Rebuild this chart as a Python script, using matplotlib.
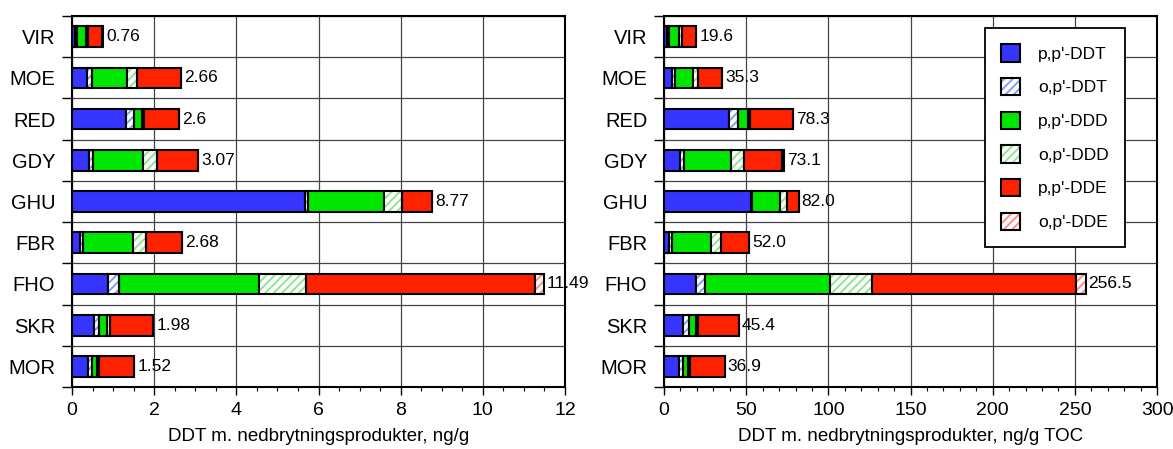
import matplotlib.pyplot as plt
import numpy as np
from matplotlib.patches import Patch
from matplotlib.ticker import MultipleLocator

plt.rcParams["font.family"] = ["Liberation Sans", "DejaVu Sans"]
plt.rcParams["hatch.linewidth"] = 1.4

stations = ["VIR", "MOE", "RED", "GDY", "GHU", "FBR", "FHO", "SKR", "MOR"]
components = ["p,p'-DDT", "o,p'-DDT", "p,p'-DDD", "o,p'-DDD", "p,p'-DDE", "o,p'-DDE"]

# ng/g torrvekt
pp_ddt_dw = [0.08, 0.37, 1.31, 0.41, 5.67, 0.19, 0.88, 0.54, 0.38]
op_ddt_dw = [0.04, 0.11, 0.20, 0.11, 0.08, 0.07, 0.26, 0.12, 0.11]
pp_ddd_dw = [0.23, 0.87, 0.19, 1.21, 1.84, 1.22, 3.41, 0.18, 0.11]
op_ddd_dw = [0.03, 0.22, 0.05, 0.35, 0.45, 0.32, 1.14, 0.08, 0.06]
pp_dde_dw = [0.36, 1.09, 0.85, 0.99, 0.73, 0.88, 5.57, 1.06, 0.86]
op_dde_dw = [0.02, 0.00, 0.00, 0.00, 0.00, 0.00, 0.23, 0.00, 0.00]

# ng/g TOC
pp_ddt_toc = [2.0, 4.6, 39.4, 9.7, 52.7, 3.2, 19.2, 11.6, 9.3]
op_ddt_toc = [1.2, 2.1, 5.6, 2.6, 0.8, 1.4, 5.6, 3.4, 2.4]
pp_ddd_toc = [6.1, 11.1, 6.1, 28.7, 16.8, 23.9, 76.4, 4.3, 2.7]
op_ddd_toc = [1.4, 2.6, 1.4, 7.5, 4.4, 6.0, 25.3, 1.6, 1.2]
pp_dde_toc = [8.9, 14.9, 25.8, 23.4, 7.3, 17.5, 124.3, 24.5, 21.3]
op_dde_toc = [0.0, 0.0, 0.0, 1.2, 0.0, 0.0, 5.7, 0.0, 0.0]

fills = ["#3535ff", "white", "#00e600", "white", "#ff2200", "white"]
hatch_col = [None, "#7da2f2", None, "#8ee68e", None, "#ff8c8c"]


def draw_panel(ax, series, xmax, major, minor, xlabel, fmt):
    y = np.arange(len(stations))
    left = np.zeros(len(stations))
    for vals, fc, hc in zip(series, fills, hatch_col):
        vals = np.array(vals)
        if hc is None:
            ax.barh(y, vals, left=left, height=0.5, color=fc,
                    edgecolor="black", linewidth=1.5, zorder=3)
        else:
            ax.barh(y, vals, left=left, height=0.5, color="white",
                    edgecolor=hc, hatch="////", linewidth=0, zorder=3)
            ax.barh(y, vals, left=left, height=0.5, fill=False,
                    edgecolor="black", linewidth=1.5, zorder=4)
        left += vals
    for yi, tot in zip(y, left):
        ax.text(tot + xmax * 0.006, yi, fmt(tot), va="center", ha="left",
                fontsize=12.5, zorder=5)

    ax.set_xlim(0, xmax)
    ax.set_ylim(len(stations) - 0.5, -0.5)
    ax.xaxis.set_major_locator(MultipleLocator(major))
    ax.xaxis.set_minor_locator(MultipleLocator(minor))
    ax.tick_params(axis="x", which="major", direction="out", length=6,
                   width=1, labelsize=14, pad=5)
    ax.tick_params(axis="x", which="minor", direction="out", length=3, width=0.8)

    # kategoriskiller som hovedticks, navn midt i
    ax.set_yticks(np.arange(len(stations) + 1) - 0.5)
    ax.set_yticklabels([])
    ax.set_yticks(y, minor=True)
    ax.set_yticklabels(stations, minor=True, fontsize=14.5)
    ax.tick_params(axis="y", which="major", direction="out", length=7, width=1)
    ax.tick_params(axis="y", which="minor", length=0, pad=12)

    ax.grid(True, which="major", color="#444444", linewidth=0.9, zorder=0)
    ax.set_axisbelow(True)
    for s in ax.spines.values():
        s.set_linewidth(1.5)
    ax.set_xlabel(xlabel, fontsize=13.5, labelpad=6)


fig = plt.figure(figsize=(11.73, 4.49), dpi=100)
ax1 = fig.add_axes([0.0614, 0.138, 0.4203, 0.8264])
ax2 = fig.add_axes([0.5661, 0.138, 0.4203, 0.8264])

draw_panel(ax1, [pp_ddt_dw, op_ddt_dw, pp_ddd_dw, op_ddd_dw, pp_dde_dw, op_dde_dw],
           12, 2, 0.5, "DDT m. nedbrytningsprodukter, ng/g",
           lambda t: f"{round(t, 2):g}")
draw_panel(ax2, [pp_ddt_toc, op_ddt_toc, pp_ddd_toc, op_ddd_toc, pp_dde_toc, op_dde_toc],
           300, 50, 10, "DDT m. nedbrytningsprodukter, ng/g TOC",
           lambda t: f"{t:.1f}")

handles = []
for fc, hc in zip(fills, hatch_col):
    if hc is None:
        handles.append(Patch(facecolor=fc, edgecolor="black", linewidth=1.5))
    else:
        handles.append((Patch(facecolor="white", edgecolor=hc, hatch="////", linewidth=0),
                        Patch(fill=False, edgecolor="black", linewidth=1.5)))

leg = ax2.legend(handles, components, loc="upper right",
                 bbox_to_anchor=(0.935, 0.968), borderaxespad=0,
                 fontsize=12.5, handlelength=1.1, handleheight=1.15,
                 handletextpad=1.0, labelspacing=0.93, borderpad=0.95,
                 fancybox=False, framealpha=1, edgecolor="black")
leg.get_frame().set_linewidth(1.3)
leg.set_zorder(10)

fig.savefig("out.png", dpi=100)
